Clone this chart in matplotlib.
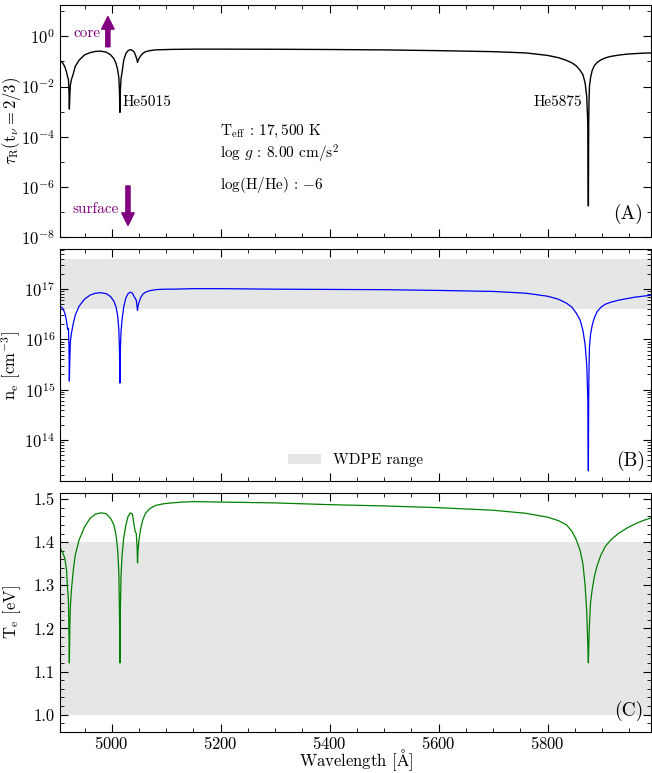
import matplotlib
matplotlib.use("Agg")
import matplotlib.pyplot as plt
import numpy as np
from matplotlib.ticker import LogLocator, MultipleLocator, NullFormatter

plt.rcParams['font.family'] = 'serif'
plt.rcParams['font.serif'] = ['cmr10', 'DejaVu Serif']
plt.rcParams['mathtext.fontset'] = 'cm'
plt.rcParams['axes.formatter.use_mathtext'] = True
plt.rcParams['font.size'] = 12

# wavelength grid [A]
wavelength = [4905, 4910, 4914, 4917, 4919, 4920.5, 4921.5, 4922.2, 4923, 4924,
              4926, 4929, 4933, 4940, 4950, 4960, 4970, 4980, 4990, 4998,
              5004, 5008, 5011, 5013, 5014.2, 5015, 5015.8, 5017, 5019, 5022,
              5026, 5030, 5034, 5038, 5041, 5043, 5045, 5046.5, 5047.3, 5048.2,
              5050, 5053, 5057, 5062, 5070, 5080, 5095, 5110, 5130, 5150,
              5200, 5300, 5400, 5500, 5600, 5700, 5760, 5800, 5820, 5835,
              5845, 5853, 5860, 5865, 5869, 5872, 5874, 5875, 5875.6, 5876.2,
              5877, 5879, 5882, 5886, 5891, 5898, 5906, 5916, 5930, 5945,
              5960, 5975, 5990]

# log10 of tau_R at t_nu = 2/3
log_tau = [-0.96, -1.06, -1.22, -1.43, -1.62, -1.72, -2.2, -2.90, -2.4, -1.95,
           -1.72, -1.52, -1.2, -0.95, -0.74, -0.65, -0.60, -0.59, -0.63, -0.74,
           -0.89, -1.09, -1.35, -1.65, -2.2, -3.03, -2.2, -1.7, -1.42, -0.95,
           -0.68, -0.57, -0.53, -0.56, -0.62, -0.72, -0.84, -0.95, -1.04, -0.97,
           -0.88, -0.78, -0.68, -0.61, -0.57, -0.54, -0.53, -0.52, -0.515, -0.51,
           -0.51, -0.515, -0.525, -0.54, -0.57, -0.61, -0.66, -0.76, -0.85, -0.96,
           -1.06, -1.18, -1.36, -1.53, -1.85, -2.4, -3.5, -6.76, -3.5, -2.6,
           -2.0, -1.65, -1.36, -1.17, -1.04, -0.94, -0.86, -0.80, -0.75, -0.71,
           -0.69, -0.67, -0.66]

# log10 of electron density [cm^-3]
log_ne = [16.66, 16.62, 16.52, 16.36, 16.2, 16.22, 15.85, 15.17, 15.6, 15.95,
          16.12, 16.3, 16.48, 16.66, 16.8, 16.88, 16.92, 16.93, 16.91, 16.85,
          16.76, 16.64, 16.46, 16.2, 15.8, 15.13, 15.8, 16.15, 16.4, 16.65,
          16.83, 16.91, 16.94, 16.92, 16.85, 16.82, 16.78, 16.65, 16.58, 16.66,
          16.74, 16.83, 16.9, 16.94, 16.97, 16.99, 17.0, 17.0, 17.005, 17.01,
          17.01, 17.0, 16.995, 16.99, 16.975, 16.955, 16.92, 16.86, 16.8, 16.72,
          16.64, 16.52, 16.38, 16.18, 15.9, 15.5, 14.8, 13.38, 14.8, 15.4,
          15.85, 16.1, 16.28, 16.43, 16.55, 16.64, 16.7, 16.74, 16.78, 16.81,
          16.84, 16.86, 16.88]

# electron temperature [eV]
t_e = [1.387, 1.376, 1.362, 1.335, 1.29, 1.265, 1.18, 1.12, 1.2, 1.25,
       1.29, 1.33, 1.37, 1.405, 1.435, 1.455, 1.465, 1.468, 1.466, 1.455,
       1.44, 1.415, 1.38, 1.33, 1.24, 1.12, 1.24, 1.32, 1.37, 1.41,
       1.44, 1.46, 1.468, 1.465, 1.44, 1.425, 1.42, 1.39, 1.352, 1.38,
       1.405, 1.43, 1.452, 1.467, 1.478, 1.485, 1.489, 1.491, 1.493, 1.494,
       1.493, 1.491, 1.487, 1.484, 1.48, 1.474, 1.467, 1.458, 1.45, 1.44,
       1.425, 1.405, 1.38, 1.35, 1.3, 1.24, 1.16, 1.12, 1.15, 1.18,
       1.21, 1.26, 1.29, 1.32, 1.345, 1.37, 1.39, 1.405, 1.42, 1.432,
       1.442, 1.45, 1.456]

ne_range = [4e16, 4e17]
te_range = [1.0, 1.4]

wl = np.array(wavelength)
W, H = 652, 773
fig = plt.figure(figsize=(W / 100, H / 100), dpi=100)
left, right = 60 / W, 651 / W

def box(top, bottom):
    return [left, 1 - bottom / H, right - left, (bottom - top) / H]

axA = fig.add_axes(box(5, 237))
axB = fig.add_axes(box(249, 481), sharex=axA)
axC = fig.add_axes(box(493, 732), sharex=axA)

# (A) optical depth
axA.plot(wl, 10 ** np.array(log_tau), color='black', lw=1.0)
axA.set_yscale('log')
axA.set_ylim(1e-8, 10 ** 1.25)
axA.yaxis.set_major_locator(LogLocator(base=100))
axA.yaxis.set_minor_locator(LogLocator(base=10, subs=[1.0], numticks=20))
axA.yaxis.set_minor_formatter(NullFormatter())
axA.set_ylabel(r'$\tau_{\rm R}({\rm t}_{\nu}=2/3)$')
axA.text(5020, 2.3e-3, 'He5015', va='center', fontsize=11)
axA.text(5864, 2.3e-3, 'He5875', va='center', ha='right', fontsize=11)
axA.text(0.271, 0.455, r'T$_{\rm eff}$ : $17,500$ K', transform=axA.transAxes,
         va='center', fontsize=11)
axA.text(0.271, 0.356, r'log $g$ : 8.00 cm/s$^2$', transform=axA.transAxes,
         va='center', fontsize=11)
axA.text(0.271, 0.223, r'$\log(\mathrm{H/He})\,:\,{-6}$', transform=axA.transAxes,
         va='center', fontsize=11)
arrow = dict(facecolor='purple', edgecolor='purple', width=3, headwidth=9, headlength=9)
axA.annotate('', xy=(0.081, 0.95), xytext=(0.081, 0.82),
             xycoords='axes fraction', arrowprops=arrow)
axA.annotate('', xy=(0.115, 0.05), xytext=(0.115, 0.22),
             xycoords='axes fraction', arrowprops=arrow)
axA.text(0.068, 0.88, 'core', color='purple', ha='right', va='center',
         transform=axA.transAxes, fontsize=11)
axA.text(0.1, 0.12, 'surface', color='purple', ha='right', va='center',
         transform=axA.transAxes, fontsize=11)
axA.text(0.962, 0.1, '(A)', transform=axA.transAxes, ha='center', va='center', fontsize=14)

# (B) electron density
axB.axhspan(ne_range[0], ne_range[1], color='0.9', lw=0, label='WDPE range')
axB.plot(wl, 10 ** np.array(log_ne), color='blue', lw=0.9)
axB.set_yscale('log')
axB.set_ylim(10 ** 13.18, 10 ** 17.8)
axB.yaxis.set_minor_formatter(NullFormatter())
axB.set_ylabel(r'n$_{\rm e}$ [cm$^{-3}$]')
axB.legend(loc='lower center', frameon=False, fontsize=11, handlelength=2.2)
axB.text(0.965, 0.086, '(B)', transform=axB.transAxes, ha='center', va='center', fontsize=14)

# (C) electron temperature
axC.axhspan(te_range[0], te_range[1], color='0.9', lw=0)
axC.plot(wl, t_e, color='green', lw=0.9)
axC.set_ylim(0.96, 1.514)
axC.yaxis.set_major_locator(MultipleLocator(0.1))
axC.yaxis.set_minor_locator(MultipleLocator(0.02))
axC.yaxis.set_major_formatter(matplotlib.ticker.FormatStrFormatter('%.1f'))
axC.set_ylabel(r'T$_{\rm e}$ [eV]')
axC.set_xlabel(r'Wavelength [$\mathrm{\AA}$]')
axC.xaxis.set_label_coords(0.5, -0.066)

axC.text(0.962, 0.0875, '(C)', transform=axC.transAxes, ha='center', va='center', fontsize=14)

axC.set_xlim(4905, 5990)
axC.xaxis.set_major_locator(MultipleLocator(200))
axC.xaxis.set_minor_locator(MultipleLocator(50))

for ax in (axA, axB, axC):
    ax.tick_params(which='both', direction='in', top=True, right=True)
    ax.tick_params(which='major', length=6)
    ax.tick_params(which='minor', length=3)
    ax.yaxis.set_label_coords(-0.062, 0.5)
for ax in (axA, axB):
    ax.tick_params(labelbottom=False)
axC.tick_params(axis='x', pad=2.5)

fig.savefig('out.png', dpi=100)
